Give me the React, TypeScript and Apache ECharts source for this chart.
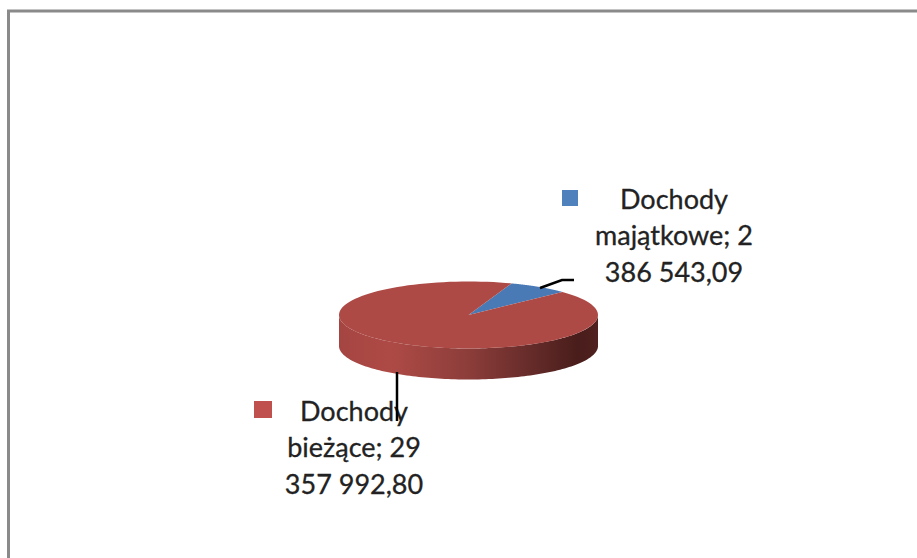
import React, { useEffect, useRef } from "react";
import * as echarts from "echarts";

const categories = ["Dochody majątkowe", "Dochody bieżące"];
const values = [2386543.09, 29357992.8];
const colors = ["#4a7ab5", "#ae4a46"];
const labelLines = [
  "Dochody\nmajątkowe; 2\n386 543,09",
  "Dochody\nbieżące; 29\n357 992,80",
];

const CX = 468.5, CY = 315, RX = 129.5, RY = 33.5, DEPTH = 31;
const START = (19.4 * Math.PI) / 180;
const total = values.reduce((a, b) => a + b, 0);
const pt = (t: number, dy = 0) => [CX + RX * Math.sin(t), CY - RY * Math.cos(t) + dy];

function renderSlice(params: any, api: any) {
  const i = params.dataIndex;
  let before = 0;
  for (let k = 0; k < i; k++) before += values[k];
  const a0 = START + (before / total) * Math.PI * 2;
  const a1 = a0 + (api.value(0) / total) * Math.PI * 2;
  const N = 120;
  const pts: number[][] = [[CX, CY]];
  for (let k = 0; k <= N; k++) pts.push(pt(a0 + ((a1 - a0) * k) / N));
  const children: any[] = [];
  if (i === 1) {
    // visible front wall: from right extreme (90deg) to left extreme (270deg)
    const wall: number[][] = [];
    for (let k = 0; k <= N; k++) wall.push(pt(Math.PI / 2 + (Math.PI * k) / N));
    for (let k = N; k >= 0; k--) wall.push(pt(Math.PI / 2 + (Math.PI * k) / N, DEPTH));
    children.push({
      type: "polygon",
      shape: { points: wall },
      style: {
        fill: new echarts.graphic.LinearGradient(0, 0, 1, 0, [
          { offset: 0, color: "#a54542" },
          { offset: 0.2, color: "#ae4a46" },
          { offset: 0.5, color: "#8c3d3a" },
          { offset: 0.8, color: "#5c2725" },
          { offset: 0.92, color: "#491d1b" },
          { offset: 1, color: "#4f2120" },
        ]),
      },
    });
  }
  children.push({ type: "polygon", shape: { points: pts }, style: { fill: colors[i] } });
  return { type: "group", children };
}

export default function App() {
  const ref = useRef<HTMLDivElement>(null);
  useEffect(() => {
    const chart = echarts.init(ref.current!, null, { renderer: "svg" });
    const font = {
      fontFamily: "Lato",
      fontSize: 27,
      lineHeight: 36.5,
      fill: "#222",
      stroke: "#222",
      lineWidth: 0.3,
      align: "center" as const,
      verticalAlign: "top" as const,
    };
    chart.setOption({
      animation: false,
      backgroundColor: "#ffffff",
      graphic: [
        { type: "rect", z: 0, shape: { x: 8.5, y: 11, width: 1000, height: 700 }, style: { fill: "#fff", stroke: "#8a8a8a", lineWidth: 3 } },
        { type: "rect", z: 20, shape: { x: 562, y: 190, width: 16, height: 16 }, style: { fill: "#4f81bd" } },
        { type: "rect", z: 20, shape: { x: 254, y: 401, width: 18, height: 17 }, style: { fill: "#c0504d" } },
        { type: "text", z: 20, x: 674, y: 180, style: { ...font, text: labelLines[0] } },
        { type: "text", z: 20, x: 354, y: 392, style: { ...font, text: labelLines[1] } },
        { type: "polyline", z: 21, shape: { points: [[540, 288], [562, 280], [574, 280]] }, style: { stroke: "#000", lineWidth: 2.5, fill: "none" } },
        { type: "line", z: 21, shape: { x1: 397, y1: 372, x2: 397, y2: 421 }, style: { stroke: "#000", lineWidth: 2.5 } },
      ],
      series: [
        {
          type: "custom",
          coordinateSystem: "none",
          z: 10,
          renderItem: renderSlice,
          data: values.map((v, i) => ({ name: categories[i], value: [v] })),
        },
      ],
    });
    return () => chart.dispose();
  }, []);
  return <div ref={ref} style={{ position: "fixed", left: 0, top: 0, width: 917, height: 558 }} />;
}
